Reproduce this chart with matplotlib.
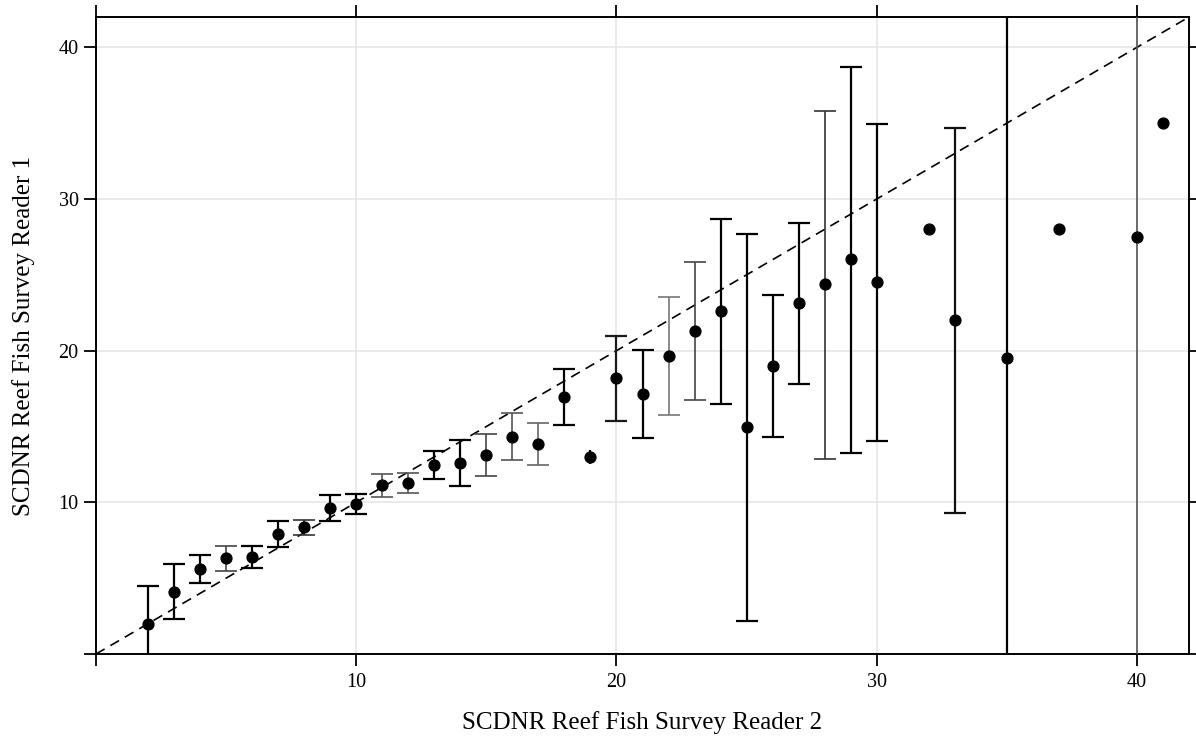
import matplotlib
matplotlib.use("Agg")
import matplotlib.pyplot as plt
import numpy as np

# Reader 2 age (x), mean Reader 1 age (y) with lower/upper interval bounds
reader2 = [2, 3, 4, 5, 6, 7, 8, 9, 10, 11, 12, 13, 14, 15, 16, 17, 18, 19, 20,
           21, 22, 23, 24, 25, 26, 27, 28, 29, 30, 32, 33, 35, 37, 40, 41]
reader1_mean = [2.0, 4.1, 5.6, 6.34, 6.42, 7.9, 8.35, 9.6, 9.9, 11.15, 11.27,
                12.43, 12.59, 13.11, 14.32, 13.86, 16.94, 13.0, 18.19, 17.12,
                19.63, 21.3, 22.63, 14.96, 18.99, 23.17, 24.37, 26.04, 24.55,
                28.0, 22.0, 19.5, 28.0, 27.5, 35.0]
lower = [-0.6, 2.31, 4.69, 5.5, 5.7, 7.04, 7.83, 8.78, 9.24, 10.38, 10.6,
         11.53, 11.09, 11.73, 12.76, 12.45, 15.07, 12.55, 15.38, 14.24,
         15.75, 16.74, 16.5, 2.2, 14.32, 17.81, 12.83, 13.24, 14.03,
         None, 9.3, -6.0, None, -4.0, None]
upper = [4.49, 5.94, 6.51, 7.15, 7.15, 8.78, 8.84, 10.5, 10.56, 11.9, 11.95,
         13.4, 14.1, 14.5, 15.9, 15.23, 18.8, 13.45, 20.99, 20.02,
         23.52, 25.87, 28.7, 27.67, 23.69, 28.4, 35.82, 38.68, 34.96,
         None, 34.7, 45.0, None, 60.0, None]
# interval line shade per age class
bar_shade = ["k", "k", "k", "#444444", "k", "k", "#333333", "k", "k", "#555555",
             "#555555", "k", "k", "#444444", "#555555", "#666666", "k", "k", "#1a1a1a",
             "k", "#777777", "#444444", "k", "k", "k", "k", "#333333", "k", "k",
             "k", "#111111", "k", "k", "#555555", "k"]

ticks = [0, 10, 20, 30, 40]
tick_labels = ["", "10", "20", "30", "40"]

plt.rcParams["font.family"] = ["Liberation Serif", "DejaVu Serif"]

fig = plt.figure(figsize=(11.96, 7.40), dpi=100)
ax = fig.add_axes([96 / 1196, 86 / 740, 1093 / 1196, 637 / 740])

ax.set_xlim(0, 42)
ax.set_ylim(0, 42)

# grid
for t in ticks[1:]:
    ax.axvline(t, color="#e4e4e4", lw=1.1, zorder=0)
    ax.axhline(t, color="#e4e4e4", lw=1.1, zorder=0)

# 1:1 reference line
ax.plot([0, 42], [0, 42], color="k", lw=1.2, ls=(0, (6, 4)), zorder=2)

# intervals
for x, m, lo, hi, c in zip(reader2, reader1_mean, lower, upper, bar_shade):
    if lo is None:
        continue
    lw = 1.6 if c in ("k", "#111111", "#1a1a1a") else 1.2
    cap = 0 if (hi - lo) < 1.0 else 7.9
    ax.errorbar([x], [m], yerr=[[m - lo], [hi - m]], fmt="none", ecolor=c,
                elinewidth=lw, capsize=cap, capthick=lw, zorder=3)

ax.plot(reader2, reader1_mean, "o", color="k", ms=7.8, mec="k", zorder=4)

ax.set_xticks(ticks)
ax.set_xticklabels(tick_labels)
ax.set_yticks(ticks)
ax.set_yticklabels(tick_labels)
ax.tick_params(axis="both", which="both", direction="out", length=8.5, width=1.3,
               top=True, right=True, labelsize=14.5, pad=5, color="k")
ax.tick_params(axis="y", pad=4)
for s in ax.spines.values():
    s.set_linewidth(1.4)
    s.set_color("k")

ax.set_xlabel("SCDNR Reef Fish Survey Reader 2", fontsize=18, labelpad=14)
ax.set_ylabel("SCDNR Reef Fish Survey Reader 1", fontsize=18, labelpad=17)

fig.savefig("out.png", dpi=100)
